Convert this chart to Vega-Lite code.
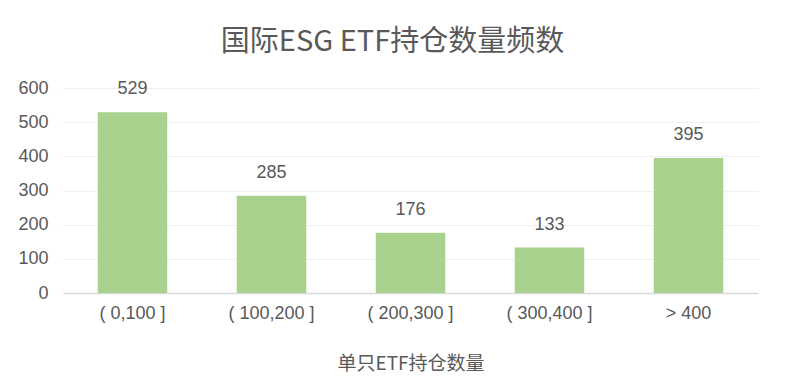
{
  "$schema": "https://vega.github.io/schema/vega-lite/v6.json",
  "autosize": {"type": "none"},
  "width": 695,
  "height": 205,
  "padding": {"left": 63, "top": 88, "right": 28, "bottom": 97},
  "background": "white",
  "title": {
    "text": "国际ESG ETF持仓数量频数",
    "fontSize": 29,
    "font": "Noto Sans CJK SC",
    "fontWeight": "normal",
    "color": "#595959",
    "anchor": "middle",
    "dx": -18,
    "offset": 22
  },
  "data": {
    "values": [
      {"bin": "( 0,100 ]", "count": 529},
      {"bin": "( 100,200 ]", "count": 285},
      {"bin": "( 200,300 ]", "count": 176},
      {"bin": "( 300,400 ]", "count": 133},
      {"bin": "> 400", "count": 395}
    ]
  },
  "encoding": {
    "x": {
      "field": "bin",
      "type": "nominal",
      "sort": null,
      "scale": {"paddingInner": 0.5, "paddingOuter": 0.25},
      "axis": {
        "title": "单只ETF持仓数量",
        "titleFont": "Noto Sans CJK SC",
        "titleFontSize": 19,
        "titleFontWeight": "normal",
        "titleColor": "#595959",
        "titlePadding": 32,
        "labelAngle": 0,
        "labelFont": "Liberation Sans",
        "labelFontSize": 18,
        "labelColor": "#595959",
        "labelPadding": 11,
        "ticks": false,
        "domainColor": "#D9D9D9",
        "domainWidth": 1.5
      }
    },
    "y": {
      "field": "count",
      "type": "quantitative",
      "scale": {"domain": [0, 600]},
      "axis": {
        "title": null,
        "values": [0, 100, 200, 300, 400, 500, 600],
        "labelFont": "Liberation Sans",
        "labelFontSize": 18,
        "labelColor": "#595959",
        "labelPadding": 15,
        "ticks": false,
        "domain": false,
        "grid": true,
        "gridColor": "#F0F0F0",
        "gridWidth": 1
      }
    }
  },
  "layer": [
    {"mark": {"type": "bar", "color": "#A9D18E"}},
    {
      "mark": {
        "type": "text",
        "dy": -23,
        "font": "Liberation Sans",
        "fontSize": 18,
        "color": "#595959"
      },
      "encoding": {"text": {"field": "count", "type": "quantitative"}}
    }
  ],
  "config": {"view": {"stroke": null}}
}
